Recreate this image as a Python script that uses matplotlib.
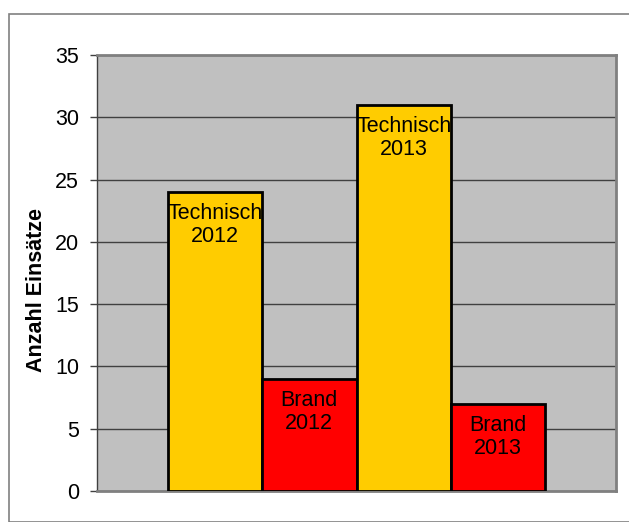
import matplotlib
matplotlib.use("Agg")
import matplotlib.pyplot as plt
from matplotlib.patches import Rectangle

plt.rcParams['font.family'] = ['Liberation Sans', 'DejaVu Sans']

labels = ["Technisch\n2012", "Brand\n2012", "Technisch\n2013", "Brand\n2013"]
values = [24, 9, 31, 7]
colors = ["#FFCC00", "#FF0000", "#FFCC00", "#FF0000"]
yticks = [0, 5, 10, 15, 20, 25, 30, 35]

W, H = 629, 522
fig = plt.figure(figsize=(W / 100, H / 100), dpi=100)
fig.patches.append(Rectangle((8.5 / W, 0), 1, 1 - 13.5 / H, transform=fig.transFigure,
                             fill=False, edgecolor="#808080", linewidth=1.2))

left, right, top, bottom = 97, 616, 55, 491
ax = fig.add_axes([left / W, 1 - bottom / H, (right - left) / W, (bottom - top) / H])
ax.set_facecolor("#C0C0C0")

x = [0, 1, 2, 3]
ax.bar(x, values, width=1.0, color=colors, edgecolor="black", linewidth=2, zorder=3)
for xi, v, lab in zip(x, values, labels):
    ax.text(xi, v - 0.9, lab, ha="center", va="top", fontsize=15.5, zorder=4,
            linespacing=1.1)

ax.set_xlim(-1.25, 4.25)
ax.set_ylim(0, 35)
ax.set_yticks(yticks)
ax.set_yticklabels([str(t) for t in yticks], fontsize=15.5)
ax.set_xticks([])
ax.yaxis.grid(True, color="#404040", linewidth=1)
ax.set_axisbelow(True)
ax.tick_params(axis="y", length=5, width=1, color="#404040", pad=8)
for s in ["top", "right", "bottom"]:
    ax.spines[s].set_color("#808080")
    ax.spines[s].set_linewidth(2)
ax.spines["left"].set_color("#404040")
ax.spines["left"].set_linewidth(1)

fig.text(37 / W, 1 - 290 / H, "Anzahl Einsätze", rotation=90, ha="center", va="center",
         fontsize=15.5, fontweight="bold")

fig.savefig("out.png", dpi=100)
